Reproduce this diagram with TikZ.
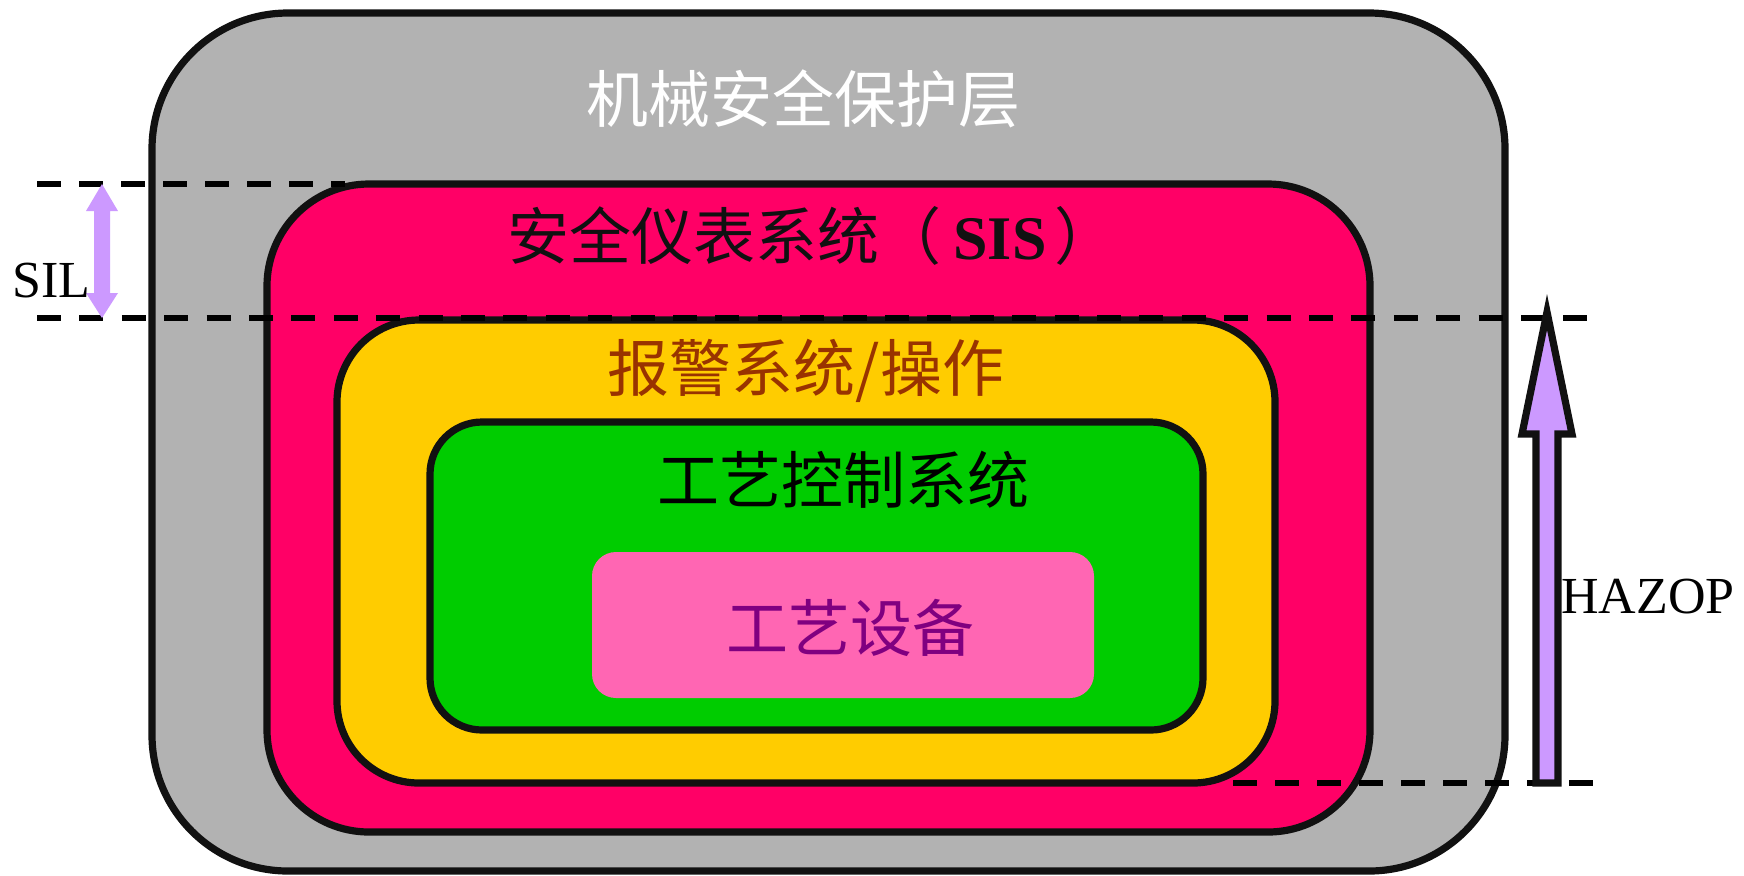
\documentclass[tikz,border=0pt]{standalone}
\usepackage{fontspec}
\setmainfont{Liberation Serif}
\newfontfamily\cjk{Noto Sans CJK SC}
\definecolor{grayL}{HTML}{B2B2B2}
\definecolor{sispink}{HTML}{FF0066}
\definecolor{alarmyel}{HTML}{FFCC00}
\definecolor{bpcsgreen}{HTML}{00CC00}
\definecolor{eqpink}{HTML}{FF66B3}
\definecolor{lav}{HTML}{CC99FF}
\definecolor{brd}{HTML}{111111}
\definecolor{brownT}{HTML}{993300}
\definecolor{purpT}{HTML}{800080}
\tikzset{
  layer/.style={draw=brd, line width=3.6pt},
  dashline/.style={draw=black, line width=3pt, dash pattern=on 12pt off 9pt},
  cjklabel/.style={font=\cjk\fontsize{31}{31}\selectfont, inner sep=0pt},
  latlabel/.style={font=\fontsize{26}{26}\selectfont, inner sep=0pt, text=black}
}
\begin{document}
\begin{tikzpicture}[x=0.5pt,y=-0.5pt]
\useasboundingbox (0,0) rectangle (1744,875);
\fill[white] (0,0) rectangle (1744,875);
% layers
\path[layer, fill=grayL, rounded corners=68pt] (152,13) rectangle (1505,871);
\path[layer, fill=sispink, rounded corners=51pt] (267,184) rectangle (1370,832);
\path[layer, fill=alarmyel, rounded corners=41pt] (337,320) rectangle (1275,783);
\path[layer, fill=bpcsgreen, rounded corners=26pt] (430,422) rectangle (1203,730);
\fill[eqpink, rounded corners=12pt] (592,552) rectangle (1094,698);
% dashed lines
\coordinate (t1) at (37,184); \coordinate (t2) at (345,184);
\coordinate (m1) at (37,318); \coordinate (m2) at (1588,318);
\coordinate (b1) at (1233,783); \coordinate (b2) at (1594,783);
\draw[dashline] (t1) -- (t2);
\draw[dashline, dash pattern=on 12pt off 9.2pt] (m1) -- (m2);
\draw[dashline] (b1) -- (b2);
% SIL arrow
\fill[lav] (94,211) -- (94,293) -- (86,293) -- (102,318) -- (118,293) -- (110,293)
  -- (110,211) -- (118,211) -- (102,184) -- (86,211) -- cycle;
\node[latlabel, anchor=base west] (sil) at (12,297) {SIL};
% HAZOP arrow
\draw[draw=brd, fill=lav, line width=3.6pt, line join=miter]
  (1536,783) -- (1558,783) -- (1558,434) -- (1572,434) -- (1547,312)
  -- (1522,434) -- (1536,434) -- cycle;
\node[latlabel, anchor=base west] (hazop) at (1561,613) {HAZOP};
% texts
\node[cjklabel, text=white] (mech) at (803,99) {机械安全保护层};
\node[cjklabel, text=brd] (sis) at (812,236) {安全仪表系统（\hspace{6pt}{\rmfamily\bfseries SIS}\hspace{4pt}）};
\node[cjklabel, text=brownT] (alarm) at (806,371) {报警系统/操作};
\node[cjklabel, text=black] (bpcs) at (843,480) {工艺控制系统};
\node[cjklabel, text=purpT] (equip) at (850,628) {工艺设备};
\end{tikzpicture}
\end{document}
